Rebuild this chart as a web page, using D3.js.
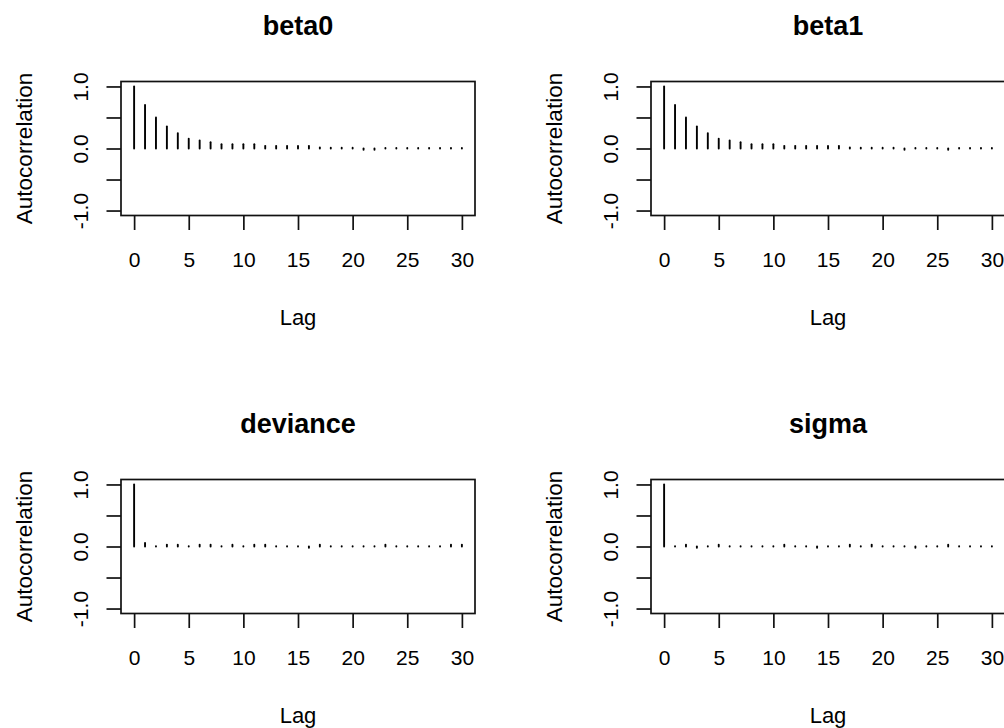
<!DOCTYPE html>
<html>
<head>
<meta charset="utf-8">
<script src="https://cdn.jsdelivr.net/npm/d3@7"></script>
<style>
  html, body { margin: 0; padding: 0; background: #fff; }
  svg { display: block; font-family: "Liberation Sans", Arial, sans-serif; }
</style>
</head>
<body>
<svg id="chart" width="1004" height="728"></svg>
<script>
// ---- data ----
const lags = [0,1,2,3,4,5,6,7,8,9,10,11,12,13,14,15,16,17,18,19,20,21,22,23,24,25,26,27,28,29,30];
const panelTitles = ["beta0", "beta1", "deviance", "sigma"];
const acfBeta0 = [1.00,0.70,0.50,0.354,0.248,0.156,0.128,0.102,0.07,0.07,0.07,0.068,0.043,0.043,0.043,0.043,0.043,0.015,0.013,0.012,0.012,-0.02,-0.02,0.01,0.01,0.01,0.01,0.01,0.01,0.01,0.01];
const acfBeta1 = [1.00,0.70,0.50,0.354,0.248,0.156,0.128,0.102,0.07,0.07,0.07,0.043,0.043,0.043,0.043,0.043,0.043,0.015,0.013,0.012,0.012,0.012,-0.02,0.01,0.01,0.01,-0.02,0.01,0.01,0.01,0.01];
const acfDeviance = [1.00,0.056,0.004,0.03,0.03,0.004,0.03,0.03,0.004,0.03,0.004,0.03,0.03,0.004,0.004,0.004,-0.02,0.03,0.004,0.004,0.004,0.004,0.004,0.03,0.004,0.004,0.004,0.004,0.004,0.03,0.03];
const acfSigma = [1.00,0.004,0.03,-0.02,0.004,0.03,0.004,0.004,0.004,0.004,0.004,0.03,0.004,0.004,-0.02,0.004,0.004,0.03,0.004,0.03,0.004,0.004,0.004,-0.02,0.004,0.004,0.03,0.004,0.004,0.004,0.004];
const xTickValues = [0,5,10,15,20,25,30];
const yTickValues = [-1.0,-0.5,0.0,0.5,1.0];
const yTickLabels = ["-1.0","","0.0","","1.0"];
const xLabel = "Lag";
const yLabel = "Autocorrelation";

const seriesList = [acfBeta0, acfBeta1, acfDeviance, acfSigma];

// ---- layout ----
const colX = [121, 651];
const rowY = [81.5, 479.5];
const boxW = 354, boxH = 134;
const tickLen = 14.5;
const fontTick = 21, fontXLab = 22, fontYLab = 22.5, fontTitle = 27;

const svg = d3.select("#chart");

seriesList.forEach((vals, i) => {
  const cx = colX[i % 2], cy = rowY[Math.floor(i / 2)];
  const g = svg.append("g").attr("transform", `translate(${cx},${cy})`);

  const x = d3.scaleLinear().domain([-1.2, 31.2]).range([0, boxW]);
  const y = d3.scaleLinear().domain([-1.08, 1.08]).range([boxH, 0]);

  // bars (type = "h")
  g.append("g").selectAll("line").data(lags).join("line")
    .attr("x1", d => x(d)).attr("x2", d => x(d))
    .attr("y1", y(0)).attr("y2", d => y(vals[d]))
    .attr("stroke", "#000").attr("stroke-width", 1.9)
    .attr("stroke-linecap", "round");

  // box
  g.append("rect").attr("x", 0).attr("y", 0).attr("width", boxW).attr("height", boxH)
    .attr("fill", "none").attr("stroke", "#111").attr("stroke-width", 1.7);

  // x axis
  const xa = g.append("g").attr("transform", `translate(0,${boxH})`)
    .call(d3.axisBottom(x).tickValues(xTickValues).tickSize(tickLen).tickFormat(d3.format("d")));
  xa.select(".domain").remove();
  xa.selectAll(".tick line").attr("stroke", "#111").attr("stroke-width", 1.7);
  xa.selectAll(".tick text").attr("y", 51.5).attr("dy", 0)
    .attr("font-size", fontTick).attr("fill", "#000")
    .attr("font-family", "Liberation Sans, Arial, sans-serif");

  // y axis
  const ya = g.append("g")
    .call(d3.axisLeft(y).tickValues(yTickValues).tickSize(tickLen)
      .tickFormat((d, k) => yTickLabels[k]));
  ya.select(".domain").remove();
  ya.selectAll(".tick line").attr("stroke", "#111").attr("stroke-width", 1.7);
  ya.selectAll(".tick text").attr("x", 0).attr("dy", 0)
    .attr("text-anchor", "middle")
    .attr("transform", "translate(-33,0) rotate(-90)")
    .attr("font-size", fontTick).attr("fill", "#000")
    .attr("font-family", "Liberation Sans, Arial, sans-serif");

  // axis titles
  g.append("text").attr("x", boxW / 2).attr("y", boxH + 109.5)
    .attr("text-anchor", "middle").attr("font-size", fontXLab).attr("fill", "#000")
    .text(xLabel);
  g.append("text")
    .attr("transform", `translate(-89,${boxH / 2}) rotate(-90)`)
    .attr("text-anchor", "middle").attr("font-size", fontYLab).attr("fill", "#000")
    .text(yLabel);

  // main title
  g.append("text").attr("x", boxW / 2).attr("y", -46.5)
    .attr("text-anchor", "middle").attr("font-size", fontTitle).attr("font-weight", "bold")
    .attr("fill", "#000")
    .text(panelTitles[i]);
});
</script>
</body>
</html>
